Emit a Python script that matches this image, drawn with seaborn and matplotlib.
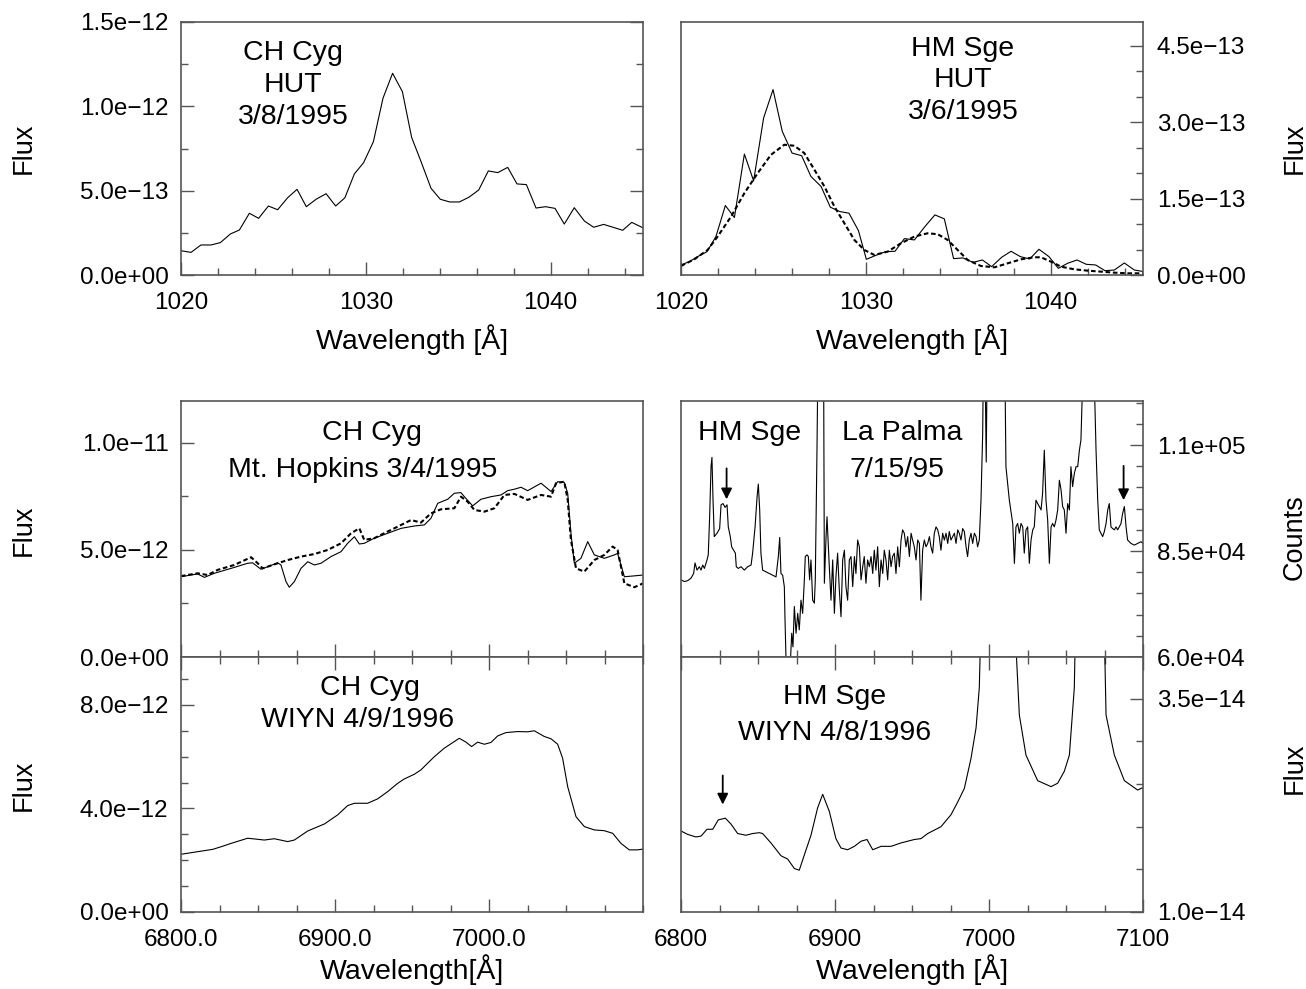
import numpy as np
import matplotlib
matplotlib.use("Agg")
import matplotlib.pyplot as plt
import seaborn as sns
from matplotlib.ticker import MultipleLocator, FixedLocator, FuncFormatter

sns.set_style("ticks")
plt.rcParams["font.family"] = ["Liberation Sans", "DejaVu Sans"]
plt.rcParams["text.color"] = "black"
plt.rcParams["axes.labelcolor"] = "black"

# ==========================================
# Data
# ==========================================

# CH Cyg, HUT 3/8/1995 (flux in 1e-12)
ch_hut_wave = [1020.00, 1020.54, 1021.08, 1021.62, 1022.13, 1022.67, 1023.16, 1023.70,
               1024.20, 1024.73, 1025.23, 1025.77, 1026.28, 1026.78, 1027.31, 1027.85,
               1028.37, 1028.87, 1029.38, 1029.88, 1030.41, 1030.93, 1031.45, 1031.98,
               1032.48, 1032.99, 1033.53, 1034.03, 1034.54, 1035.06, 1035.58, 1036.11,
               1036.63, 1037.14, 1037.68, 1038.18, 1038.69, 1039.21, 1039.73, 1040.24,
               1040.74, 1041.28, 1041.83, 1042.33, 1042.87, 1043.38, 1043.90, 1044.39,
               1045.05]
ch_hut_flux = [0.144, 0.134, 0.178, 0.178, 0.192, 0.243, 0.267, 0.366, 0.336, 0.409,
               0.387, 0.458, 0.508, 0.405, 0.449, 0.482, 0.409, 0.458, 0.599, 0.666,
               0.790, 1.048, 1.196, 1.087, 0.816, 0.672, 0.514, 0.449, 0.433, 0.433,
               0.461, 0.504, 0.617, 0.607, 0.638, 0.540, 0.536, 0.397, 0.405, 0.395,
               0.302, 0.399, 0.320, 0.283, 0.300, 0.283, 0.265, 0.312, 0.277]

# HM Sge, HUT 3/6/1995 (flux in 1e-13)
hm_hut_wave = [1020.00, 1020.45, 1020.90, 1021.41, 1021.89, 1022.40, 1022.89, 1023.43,
               1023.93, 1024.47, 1024.98, 1025.48, 1026.01, 1026.53, 1027.03, 1027.58,
               1028.08, 1028.59, 1029.09, 1029.60, 1030.03, 1030.55, 1031.08, 1031.58,
               1032.09, 1032.63, 1033.17, 1033.74, 1034.25, 1034.75, 1035.26, 1035.80,
               1036.31, 1036.81, 1037.35, 1037.86, 1038.36, 1038.87, 1039.37, 1039.91,
               1040.42, 1040.92, 1041.43, 1041.93, 1042.44, 1042.94, 1043.45, 1043.99,
               1044.53, 1045.05]
hm_hut_flux = [0.197, 0.262, 0.361, 0.459, 0.755, 1.365, 1.129, 2.375, 1.850, 3.084,
               3.642, 2.822, 2.395, 2.343, 1.936, 1.739, 1.332, 1.247, 1.214, 0.873,
               0.308, 0.387, 0.459, 0.466, 0.715, 0.689, 0.938, 1.181, 1.102, 0.322,
               0.335, 0.249, 0.295, 0.164, 0.348, 0.466, 0.361, 0.315, 0.505, 0.361,
               0.131, 0.230, 0.295, 0.210, 0.197, 0.085, 0.098, 0.236, 0.098, 0.066]
hm_fit_wave = [1020.00, 1020.72, 1021.44, 1021.98, 1022.71, 1023.43, 1024.15, 1024.87,
               1025.59, 1026.13, 1026.67, 1027.22, 1027.76, 1028.30, 1028.84, 1029.38,
               1029.92, 1030.46, 1031.18, 1031.90, 1032.63, 1033.35, 1033.89, 1034.43,
               1034.97, 1035.51, 1036.23, 1036.96, 1037.68, 1038.40, 1039.12, 1039.48,
               1040.02, 1040.56, 1041.28, 1042.01, 1042.73, 1043.45, 1044.17, 1045.05]
hm_fit_flux = [0.177, 0.308, 0.492, 0.755, 1.148, 1.608, 2.001, 2.362, 2.559, 2.539,
               2.395, 2.067, 1.739, 1.345, 1.017, 0.689, 0.492, 0.394, 0.459, 0.623,
               0.755, 0.820, 0.801, 0.689, 0.492, 0.295, 0.177, 0.151, 0.230, 0.308,
               0.348, 0.348, 0.262, 0.164, 0.112, 0.085, 0.066, 0.046, 0.033, 0.033]

# CH Cyg, Mt. Hopkins 3/4/1995 (flux in 1e-12)
mh_wave = [6800.0, 6806.5, 6810.8, 6815.2, 6821.6, 6832.5, 6843.3, 6846.5, 6851.9, 6856.3,
           6862.8, 6864.9, 6868.2, 6870.3, 6873.6, 6877.9, 6882.3, 6886.6, 6890.9, 6897.4,
           6903.9, 6908.2, 6912.6, 6915.8, 6919.0, 6925.5, 6934.2, 6942.9, 6951.5, 6958.0,
           6962.3, 6966.7, 6973.2, 6977.5, 6981.8, 6984.0, 6989.4, 6994.8, 7001.3, 7007.8,
           7012.1, 7016.5, 7020.8, 7025.1, 7033.8, 7040.3, 7044.6, 7048.9, 7051.1, 7053.2,
           7055.4, 7059.7, 7064.1, 7068.4, 7074.9, 7081.4, 7083.5, 7087.9, 7094.4, 7100.0]
mh_flux = [3.75, 3.83, 3.88, 3.72, 3.91, 4.14, 4.38, 4.40, 4.10, 4.22,
           4.40, 4.30, 3.52, 3.26, 3.52, 4.14, 4.45, 4.30, 4.38, 4.69,
           4.92, 5.31, 5.62, 5.28, 5.31, 5.55, 5.78, 6.01, 6.12, 6.17,
           6.48, 7.18, 7.37, 7.65, 7.68, 7.49, 7.06, 7.37, 7.49, 7.57,
           7.77, 7.84, 7.93, 7.77, 8.12, 7.73, 8.19, 8.15, 7.65, 5.78,
           4.38, 4.61, 5.39, 4.77, 4.61, 4.77, 4.84, 3.75, 3.79, 3.83]
mh_fit_wave = [6800.0, 6810.8, 6817.3, 6823.8, 6834.6, 6845.5, 6849.8, 6853.0, 6862.8, 6869.3,
               6877.9, 6886.6, 6895.2, 6903.9, 6910.4, 6915.8, 6919.0, 6925.5, 6934.2, 6940.7,
               6949.4, 6955.8, 6962.3, 6968.8, 6977.5, 6981.8, 6986.1, 6990.5, 6997.0, 7003.5,
               7010.0, 7016.5, 7025.1, 7033.8, 7040.3, 7043.5, 7048.9, 7051.1, 7053.2, 7056.5,
               7061.9, 7068.4, 7074.9, 7080.3, 7083.5, 7087.9, 7094.4, 7100.0]
mh_fit_flux = [3.78, 3.91, 3.83, 4.07, 4.30, 4.66, 4.38, 4.14, 4.38, 4.53,
               4.69, 4.81, 5.00, 5.31, 5.78, 6.01, 5.47, 5.55, 5.86, 6.09,
               6.40, 6.28, 6.71, 6.90, 6.95, 7.49, 7.26, 6.87, 6.79, 6.95,
               7.57, 7.62, 7.34, 7.57, 7.49, 8.12, 8.19, 7.34, 5.47, 4.14,
               3.99, 4.53, 4.77, 5.16, 5.00, 3.44, 3.26, 3.44]

# HM Sge, La Palma 7/15/95 (counts in 1e4)
lp_wave = [6800.0, 6802.2, 6804.3, 6806.5, 6808.2, 6809.1, 6810.4, 6811.9, 6813.0, 6814.1,
           6815.2, 6816.9, 6817.7, 6818.6, 6819.5, 6820.1, 6820.8, 6821.6, 6823.4, 6825.1,
           6826.0, 6827.3, 6828.6, 6829.9, 6830.7, 6832.0, 6832.9, 6834.2, 6835.3, 6835.9,
           6837.2, 6839.0, 6841.1, 6843.3, 6845.5, 6846.5, 6848.1, 6849.4, 6850.2, 6851.1,
           6851.9, 6853.0, 6855.2, 6857.4, 6859.5, 6861.7, 6863.2, 6864.1, 6864.9, 6866.0,
           6867.1, 6867.5, 6868.2, 6869.7, 6871.0, 6871.9, 6872.7, 6873.6, 6874.7, 6875.8,
           6876.8, 6877.9, 6879.0, 6880.1, 6880.7, 6881.8, 6882.7, 6883.5, 6884.4, 6885.5,
           6886.6, 6887.2, 6888.3, 6889.2, 6890.9, 6892.6, 6893.1, 6894.2, 6894.8, 6896.3,
           6897.4, 6898.5, 6899.6, 6900.6, 6901.7, 6902.8, 6903.9, 6905.0, 6906.1, 6907.1,
           6908.2, 6909.3, 6910.4, 6911.5, 6912.6, 6913.6, 6914.7, 6915.8, 6916.9, 6918.0,
           6919.0, 6920.1, 6921.2, 6922.3, 6923.4, 6924.5, 6925.5, 6926.6, 6927.7, 6928.8,
           6929.9, 6931.0, 6932.0, 6933.1, 6934.2, 6935.3, 6936.4, 6937.4, 6938.5, 6939.6,
           6940.7, 6941.8, 6942.9, 6943.9, 6945.0, 6946.1, 6947.2, 6948.3, 6949.4, 6950.4,
           6951.5, 6952.6, 6953.7, 6954.8, 6955.8, 6956.9, 6958.0, 6959.1, 6960.2, 6961.3,
           6962.3, 6963.4, 6964.5, 6965.6, 6966.7, 6967.7, 6968.8, 6969.9, 6971.0, 6972.1,
           6973.2, 6974.2, 6975.3, 6976.4, 6977.5, 6978.6, 6979.7, 6980.7, 6981.8, 6982.9,
           6984.0, 6985.1, 6986.1, 6987.2, 6988.3, 6989.4, 6990.5, 6991.6, 6992.6, 6993.7,
           6994.8, 6995.9, 6996.5, 6997.4, 6998.2, 6998.8, 7000.2, 7005.0, 7010.0, 7011.0,
           7013.2, 7015.4, 7016.5, 7017.5, 7018.6, 7019.7, 7020.8, 7021.9, 7022.9, 7024.0,
           7025.1, 7026.2, 7027.3, 7028.4, 7029.4, 7030.5, 7031.6, 7032.7, 7033.8, 7034.8,
           7035.9, 7037.0, 7038.1, 7039.2, 7040.3, 7041.3, 7042.4, 7043.5, 7044.6, 7045.7,
           7046.8, 7047.8, 7048.9, 7050.0, 7051.1, 7052.2, 7053.2, 7054.3, 7055.4, 7056.5,
           7057.6, 7058.7, 7059.7, 7060.8, 7064.0, 7068.4, 7069.5, 7070.6, 7071.6, 7072.7,
           7073.8, 7074.9, 7076.0, 7077.1, 7078.1, 7079.2, 7080.3, 7081.4, 7082.5, 7083.5,
           7084.6, 7085.7, 7086.8, 7087.9, 7089.0, 7090.0, 7091.1, 7092.2, 7094.4, 7096.5,
           7098.7, 7100.0]
lp_counts = [7.82, 7.78, 7.80, 7.86, 7.97, 8.22, 8.05, 8.13, 8.05, 8.17,
             8.09, 8.29, 8.41, 9.31, 10.49, 10.71, 9.70, 8.84, 8.92, 9.03,
             9.59, 9.62, 9.53, 9.59, 9.07, 8.84, 8.60, 8.52, 8.45, 8.13,
             8.09, 8.13, 8.05, 8.13, 8.17, 8.45, 9.07, 9.78, 10.08, 9.47,
             8.45, 8.05, 8.01, 7.97, 7.93, 7.89, 8.37, 8.82, 7.97, 7.93,
             7.66, 6.95, 5.93, 5.00, 5.85, 6.56, 6.24, 7.19, 6.56, 7.03,
             6.64, 7.34, 7.03, 7.82, 8.37, 8.41, 8.37, 7.82, 8.29, 7.34,
             7.27, 7.82, 10.88, 14.00, 16.00, 13.00, 7.74, 8.84, 9.31, 8.13,
             7.34, 8.29, 7.03, 7.89, 8.45, 7.58, 6.95, 8.29, 8.52, 7.66,
             7.34, 8.29, 8.37, 7.66, 8.37, 7.97, 8.76, 8.60, 7.82, 8.13,
             8.37, 7.74, 8.29, 8.13, 8.37, 7.97, 8.52, 8.05, 8.60, 7.66,
             8.29, 7.97, 8.52, 8.29, 7.82, 8.52, 8.13, 8.37, 8.45, 7.97,
             8.60, 8.13, 8.76, 9.00, 8.92, 8.60, 8.84, 8.37, 8.92, 8.76,
             8.60, 8.29, 8.76, 8.68, 7.34, 8.52, 8.76, 8.60, 8.68, 8.84,
             8.60, 8.45, 8.92, 9.07, 9.00, 8.84, 8.52, 8.92, 8.76, 8.92,
             8.68, 8.96, 8.76, 8.84, 8.92, 8.68, 9.00, 8.92, 8.76, 9.03,
             8.96, 8.60, 8.37, 8.76, 8.92, 8.68, 8.92, 8.84, 8.60, 8.76,
             9.70, 11.28, 13.50, 13.00, 10.60, 13.00, 16.00, 20.00, 14.00, 10.49,
             9.70, 9.15, 8.21, 9.07, 9.15, 8.92, 9.15, 9.07, 8.45, 9.00,
             9.07, 8.21, 8.76, 9.00, 9.07, 9.70, 9.62, 9.55, 9.47, 9.86,
             10.88, 9.70, 9.23, 8.21, 9.07, 9.15, 9.07, 9.23, 9.47, 10.17,
             9.94, 9.55, 9.47, 8.92, 9.62, 9.47, 10.49, 10.02, 10.33, 10.49,
             10.49, 10.88, 11.12, 12.50, 16.00, 12.50, 10.88, 9.70, 9.00, 8.92,
             8.84, 8.96, 9.15, 9.47, 9.62, 9.07, 9.03, 9.00, 9.07, 9.00,
             9.07, 9.15, 9.39, 9.55, 9.07, 8.76, 8.72, 8.68, 8.64, 8.68,
             8.72, 8.68]

# CH Cyg, WIYN 4/9/1996 (flux in 1e-12)
wiyn_ch_wave = [6800.0, 6810.8, 6820.6, 6826.0, 6832.5, 6843.3, 6854.1, 6860.6, 6869.3, 6873.6,
                6882.3, 6893.1, 6901.7, 6908.2, 6912.6, 6921.2, 6927.7, 6934.2, 6940.7, 6945.0,
                6951.5, 6955.8, 6964.5, 6971.0, 6980.7, 6985.1, 6988.7, 6992.6, 6997.0, 7001.3,
                7005.6, 7011.0, 7018.6, 7025.1, 7029.4, 7035.9, 7040.3, 7044.6, 7047.8, 7051.1,
                7056.5, 7061.9, 7068.4, 7074.9, 7080.3, 7085.7, 7091.1, 7096.5, 7100.0]
wiyn_ch_flux = [2.23, 2.33, 2.42, 2.52, 2.65, 2.85, 2.78, 2.83, 2.72, 2.78,
                3.13, 3.40, 3.75, 4.11, 4.20, 4.20, 4.37, 4.65, 4.97, 5.14,
                5.32, 5.49, 6.00, 6.33, 6.71, 6.56, 6.39, 6.56, 6.48, 6.55,
                6.80, 6.93, 6.97, 6.96, 7.00, 6.78, 6.69, 6.48, 5.94, 4.84,
                3.68, 3.30, 3.17, 3.14, 3.04, 2.65, 2.40, 2.40, 2.43]

# HM Sge, WIYN 4/8/1996 (flux in 1e-14)
wiyn_hm_wave = [6800.0, 6804.3, 6809.7, 6813.0, 6816.9, 6820.6, 6824.2, 6828.8, 6832.5, 6836.8,
                6842.2, 6846.5, 6850.9, 6853.0, 6858.4, 6864.9, 6869.3, 6873.6, 6876.8, 6880.1,
                6884.4, 6888.7, 6892.0, 6896.3, 6900.6, 6903.9, 6908.2, 6912.6, 6916.9, 6920.8,
                6924.5, 6929.9, 6936.4, 6942.9, 6951.5, 6955.8, 6960.2, 6968.8, 6975.3, 6979.7,
                6984.0, 6988.3, 6991.6, 6993.7, 6999.0, 7006.0, 7013.0, 7017.0, 7019.7, 7024.0,
                7031.6, 7040.3, 7044.6, 7048.9, 7052.2, 7055.4, 7060.0, 7065.0, 7070.0, 7075.0,
                7076.0, 7081.4, 7087.9, 7096.5, 7100.0]
wiyn_hm_flux = [1.95, 1.91, 1.88, 1.89, 1.97, 1.97, 2.08, 2.10, 2.03, 1.92,
                1.90, 1.92, 1.93, 1.92, 1.81, 1.66, 1.62, 1.51, 1.49, 1.67,
                1.90, 2.22, 2.38, 2.18, 1.86, 1.75, 1.73, 1.77, 1.83, 1.85,
                1.73, 1.77, 1.77, 1.81, 1.85, 1.86, 1.92, 2.00, 2.14, 2.29,
                2.45, 2.80, 3.16, 3.63, 7.50, 12.00, 7.00, 4.30, 3.31, 2.84,
                2.54, 2.47, 2.51, 2.65, 2.84, 3.63, 8.00, 11.00, 8.00, 4.20,
                3.31, 2.84, 2.54, 2.43, 2.46]

# arrows: (wavelength, tail, tip)
lp_arrows = [(6829.6, 10.45, 9.72), (7087.4, 10.51, 9.70)]
wiyn_arrow = (6827.1, 2.60, 2.26)

# tick values
hut_xticks = [1020, 1030, 1040]
opt_xticks = [6800, 6900, 7000, 7100]
tl_yticks = [0.0, 5e-13, 1.0e-12, 1.5e-12]
tr_yticks = [0.0, 1.5e-13, 3.0e-13, 4.5e-13]
ml_yticks = [0.0, 5e-12, 1.0e-11]
mr_yticks = [6.0e4, 8.5e4, 1.1e5]
bl_yticks = [0.0, 4e-12, 8e-12]
br_yticks = [1.0e-14, 3.5e-14]

# ==========================================
# Layout helpers
# ==========================================

W, H = 1306, 989
SPINE = "#555555"


def box(l, t, r, b):
    return [l / W, 1 - b / H, (r - l) / W, (b - t) / H]


def sci(v, pos):
    return f"{v:.1e}".replace("-", "\u2212")


def style(ax, side):
    for s in ax.spines.values():
        s.set_color(SPINE)
        s.set_linewidth(1.2)
    ax.tick_params(which="both", direction="in", color=SPINE, width=1.0,
                   labelsize=17.5, labelcolor="black")
    ax.tick_params(which="major", length=9.5)
    ax.tick_params(which="minor", length=5)
    ax.tick_params(axis="x", which="both", pad=12, top=False, bottom=True)
    if side == "left":
        ax.tick_params(axis="y", which="both", left=True, right=False,
                       labelleft=True, labelright=False, pad=9)
    else:
        ax.tick_params(axis="y", which="both", left=False, right=True,
                       labelleft=False, labelright=True, pad=10)
    ax.set_xlabel("")
    ax.set_ylabel("")


def ftext(x, y, s, size=20.5, rot=0):
    fig.text(x / W, 1 - y / H, s, ha="center", va="center", fontsize=size,
             rotation=rot, color="black")


fig = plt.figure(figsize=(13.06, 9.89), dpi=100)

ax_tl = fig.add_axes(box(181, 22, 643, 275))
ax_tr = fig.add_axes(box(681, 22, 1143, 275))
ax_ml = fig.add_axes(box(181, 401, 643, 657))
ax_mr = fig.add_axes(box(681, 401, 1143, 657))
ax_bl = fig.add_axes(box(181, 657, 643, 912))
ax_br = fig.add_axes(box(681, 657, 1143, 912))

line = dict(color="black", linewidth=0.8, estimator=None, sort=False)
dash = dict(color="black", linewidth=1.5, linestyle=(0, (2.2, 1.3)), estimator=None, sort=False)
arrow = dict(arrowstyle="-|>", color="black", lw=1.3, mutation_scale=16, shrinkA=0, shrinkB=0)

# ==========================================
# Top left: CH Cyg HUT
# ==========================================

sns.lineplot(x=ch_hut_wave, y=np.array(ch_hut_flux) * 1e-12, ax=ax_tl, **line)
ax_tl.set_xlim(1020, 1045)
ax_tl.set_ylim(0, 1.5e-12)
ax_tl.xaxis.set_major_locator(FixedLocator(hut_xticks))
ax_tl.xaxis.set_minor_locator(MultipleLocator(2))
ax_tl.yaxis.set_major_locator(FixedLocator(tl_yticks))
ax_tl.yaxis.set_minor_locator(MultipleLocator(2.5e-13))
ax_tl.yaxis.set_major_formatter(FuncFormatter(sci))
style(ax_tl, "left")
ax_tl.tick_params(axis="y", which="both", right=True)

# ==========================================
# Top right: HM Sge HUT
# ==========================================

sns.lineplot(x=hm_hut_wave, y=np.array(hm_hut_flux) * 1e-13, ax=ax_tr, **line)
sns.lineplot(x=hm_fit_wave, y=np.array(hm_fit_flux) * 1e-13, ax=ax_tr, **dash)
ax_tr.set_xlim(1020, 1045)
ax_tr.set_ylim(0, 4.97e-13)
ax_tr.xaxis.set_major_locator(FixedLocator(hut_xticks))
ax_tr.xaxis.set_minor_locator(MultipleLocator(2))
ax_tr.yaxis.set_major_locator(FixedLocator(tr_yticks))
ax_tr.yaxis.set_minor_locator(MultipleLocator(5e-14))
ax_tr.yaxis.set_major_formatter(FuncFormatter(sci))
style(ax_tr, "right")

# ==========================================
# Middle left: CH Cyg Mt. Hopkins
# ==========================================

sns.lineplot(x=mh_wave, y=np.array(mh_flux) * 1e-12, ax=ax_ml, **line)
sns.lineplot(x=mh_fit_wave, y=np.array(mh_fit_flux) * 1e-12, ax=ax_ml, **dash)
ax_ml.set_xlim(6800, 7100)
ax_ml.set_ylim(0, 1.196e-11)
ax_ml.xaxis.set_major_locator(FixedLocator(opt_xticks))
ax_ml.xaxis.set_minor_locator(MultipleLocator(25))
ax_ml.yaxis.set_major_locator(FixedLocator(ml_yticks))
ax_ml.yaxis.set_minor_locator(MultipleLocator(2.5e-12))
ax_ml.yaxis.set_major_formatter(FuncFormatter(sci))
style(ax_ml, "left")
ax_ml.tick_params(axis="x", labelbottom=False)

# ==========================================
# Middle right: HM Sge La Palma
# ==========================================

sns.lineplot(x=lp_wave, y=np.array(lp_counts) * 1e4, ax=ax_mr, **line)
for w, a, b in lp_arrows:
    ax_mr.annotate("", xy=(w, b * 1e4), xytext=(w, a * 1e4), arrowprops=arrow)
ax_mr.set_xlim(6800, 7100)
ax_mr.set_ylim(6.0e4, 1.204e5)
ax_mr.xaxis.set_major_locator(FixedLocator(opt_xticks))
ax_mr.xaxis.set_minor_locator(MultipleLocator(25))
ax_mr.yaxis.set_major_locator(FixedLocator(mr_yticks))
ax_mr.yaxis.set_minor_locator(MultipleLocator(5e3))
ax_mr.yaxis.set_major_formatter(FuncFormatter(sci))
style(ax_mr, "right")
ax_mr.tick_params(axis="x", labelbottom=False)

# ==========================================
# Bottom left: CH Cyg WIYN
# ==========================================

sns.lineplot(x=wiyn_ch_wave, y=np.array(wiyn_ch_flux) * 1e-12, ax=ax_bl, **line)
ax_bl.set_xlim(6800, 7100)
ax_bl.set_ylim(0, 9.85e-12)
ax_bl.xaxis.set_major_locator(FixedLocator(opt_xticks[:3]))
ax_bl.xaxis.set_minor_locator(MultipleLocator(25))
ax_bl.xaxis.set_major_formatter(FuncFormatter(lambda v, p: f"{v:.1f}"))
ax_bl.yaxis.set_major_locator(FixedLocator(bl_yticks))
ax_bl.yaxis.set_minor_locator(MultipleLocator(1e-12))
ax_bl.yaxis.set_major_formatter(FuncFormatter(sci))
style(ax_bl, "left")
ax_bl.tick_params(axis="x", which="both", top=True)

# ==========================================
# Bottom right: HM Sge WIYN
# ==========================================

sns.lineplot(x=wiyn_hm_wave, y=np.array(wiyn_hm_flux) * 1e-14, ax=ax_br, **line)
w, a, b = wiyn_arrow
ax_br.annotate("", xy=(w, b * 1e-14), xytext=(w, a * 1e-14), arrowprops=arrow)
ax_br.set_xlim(6800, 7100)
ax_br.set_ylim(1.0e-14, 3.99e-14)
ax_br.xaxis.set_major_locator(FixedLocator(opt_xticks))
ax_br.xaxis.set_minor_locator(MultipleLocator(25))
ax_br.yaxis.set_major_locator(FixedLocator(br_yticks))
ax_br.yaxis.set_minor_locator(MultipleLocator(5e-15))
ax_br.yaxis.set_major_formatter(FuncFormatter(sci))
style(ax_br, "right")
ax_br.tick_params(axis="x", which="both", top=True)

# ==========================================
# Annotations and axis labels
# ==========================================

ftext(293, 53, "CH Cyg")
ftext(293, 85, "HUT")
ftext(293, 117, "3/8/1995")
ftext(963, 49, "HM Sge")
ftext(963, 80, "HUT")
ftext(963, 112, "3/6/1995")
ftext(372, 433, "CH Cyg")
ftext(363, 470, "Mt. Hopkins 3/4/1995")
ftext(750, 433, "HM Sge")
ftext(902, 433, "La Palma")
ftext(897, 470, "7/15/95")
ftext(370, 688, "CH Cyg")
ftext(358, 720, "WIYN 4/9/1996")
ftext(835, 697, "HM Sge")
ftext(835, 733, "WIYN 4/8/1996")

ftext(412, 340, "Wavelength [Å]")
ftext(912, 340, "Wavelength [Å]")
ftext(412, 970, "Wavelength[Å]")
ftext(912, 970, "Wavelength [Å]")

ftext(24, 148, "Flux", size=19.5, rot=90)
ftext(1295, 148, "Flux", size=19.5, rot=90)
ftext(24, 530, "Flux", size=19.5, rot=90)
ftext(1295, 537, "Counts", size=19.5, rot=90)
ftext(24, 785, "Flux", size=19.5, rot=90)
ftext(1295, 768, "Flux", size=19.5, rot=90)

fig.savefig("out.png", dpi=100)
